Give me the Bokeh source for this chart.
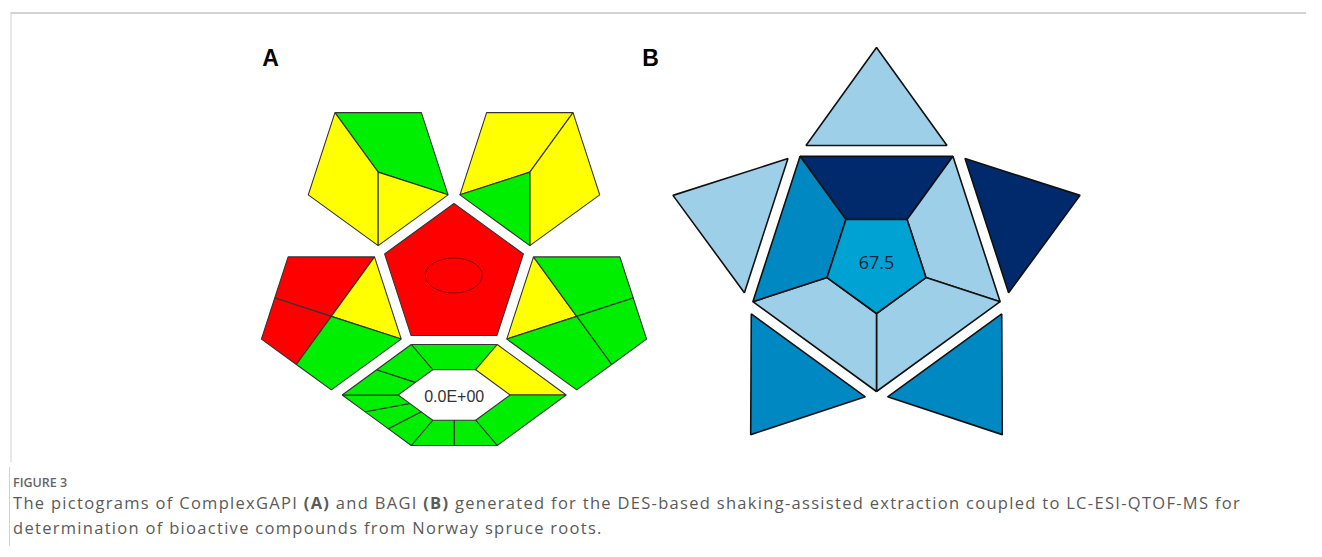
import numpy as np
from bokeh.plotting import figure
from bokeh.models import Range1d, Div, ColumnDataSource
from bokeh.layouts import column
from bokeh.embed import file_html
from bokeh.resources import INLINE
from bokeh.core.properties import value

# ---------------- data ----------------
G, Y, R = "#00ee00", "#ffff00", "#ff0000"
NAVY, MID, LIGHT, CORE = "#002a6b", "#0088c2", "#9ecfe9", "#00a2d3"

# ComplexGAPI (A) segment colours
gapi_top_left = [G, Y, Y]
gapi_top_right = [Y, Y, G]
gapi_mid_left = [R, R, Y, G]
gapi_mid_right = [Y, G, G, G]
gapi_center = R
# hexagon: top, upper-right, lower-right, bottom(2), lower-left(3), upper-left(2)
gapi_hex = [G, Y, G, G, G, G, G, G, G, G]
gapi_label = "0.0E+00"

# BAGI (B) colours: top, upper-right, lower-right, lower-left, upper-left
bagi_ring = [NAVY, LIGHT, LIGHT, LIGHT, MID]
bagi_tri = [LIGHT, NAVY, MID, MID, LIGHT]
bagi_core = CORE
bagi_score = "67.5"

panel_labels = ["A", "B"]
caption_head = "FIGURE 3"
caption_html = ("The pictograms of ComplexGAPI <b>(A)</b> and BAGI <b>(B)</b> generated for the "
                "DES-based shaking-assisted extraction coupled to LC-ESI-QTOF-MS for determination "
                "of bioactive compounds from Norway spruce roots.")

# ---------------- geometry helpers ----------------
def pt(cx, cy, r, ang):
    a = np.radians(ang)
    return (cx + r * np.cos(a), cy - r * np.sin(a))

def mid(a, b, t=0.5):
    return (a[0] + (b[0] - a[0]) * t, a[1] + (b[1] - a[1]) * t)

def inv_pent(cx, cy, r):
    return dict(B=pt(cx, cy, r, -90), Rt=pt(cx, cy, r, -18), TR=pt(cx, cy, r, 54),
                TL=pt(cx, cy, r, 126), L=pt(cx, cy, r, 198), C=(cx, cy))

xs, ys, cols = [], [], []
def add(poly, col):
    xs.append([q[0] for q in poly]); ys.append([q[1] for q in poly]); cols.append(col)

# ---------------- A: ComplexGAPI ----------------
AX, AY = 453.5, 276.0
AR = 73.5
AD = 129.0
add([pt(AX, AY, 73, a) for a in (90, 18, -54, -126, 162)], gapi_center)

def outer(ang):
    c = pt(AX, AY, AD, ang)
    return inv_pent(c[0], c[1], AR)

P = outer(126)
regions = [[P["TL"], P["TR"], P["Rt"], P["C"]], [P["TL"], P["C"], P["B"], P["L"]], [P["C"], P["Rt"], P["B"]]]
for poly, c in zip(regions, gapi_top_left): add(poly, c)

P = outer(54)
regions = [[P["TL"], P["TR"], P["C"], P["L"]], [P["TR"], P["Rt"], P["B"], P["C"]], [P["L"], P["C"], P["B"]]]
for poly, c in zip(regions, gapi_top_right): add(poly, c)

P = outer(198)
m1, m2 = mid(P["L"], P["TL"]), mid(P["B"], P["L"])
regions = [[m1, P["TL"], P["TR"], P["C"]], [P["L"], m1, P["C"], m2],
           [P["C"], P["TR"], P["Rt"]], [P["C"], P["Rt"], P["B"], m2]]
for poly, c in zip(regions, gapi_mid_left): add(poly, c)

P = outer(-18)
m1, m2 = mid(P["TR"], P["Rt"]), mid(P["Rt"], P["B"])
regions = [[P["TL"], P["C"], P["L"]], [P["TL"], P["TR"], m1, P["C"]],
           [P["C"], m1, P["Rt"], m2], [P["C"], m2, P["B"], P["L"]]]
for poly, c in zip(regions, gapi_mid_right): add(poly, c)

# hexagon
HX, HY = 453.7, 394.5
def hexv(s):
    hw, rx, ry = 43 * s, 112 * s, 50.5 * s
    return [(HX - hw, HY - ry), (HX + hw, HY - ry), (HX + rx, HY), (HX + hw, HY + ry), (HX - hw, HY + ry), (HX - rx, HY)]
O = hexv(1.0); I = hexv(0.5)
def seg(k, t0, t1):
    k2 = (k + 1) % 6
    return [mid(O[k], O[k2], t0), mid(O[k], O[k2], t1), mid(I[k], I[k2], t1), mid(I[k], I[k2], t0)]
hex_parts = [(0, [0, 1]), (1, [0, 1]), (2, [0, 1]), (3, [0, .5, 1]), (4, [0, 1/3, 2/3, 1]), (5, [0, .5, 1])]
hsegs = []
for k, ts in hex_parts:
    for a, b in zip(ts[:-1], ts[1:]):
        hsegs.append(seg(k, a, b))
for poly, c in zip(hsegs, gapi_hex): add(poly, c)

nA = len(cols)

# ---------------- B: BAGI ----------------
BX, BY, BR = 876.0, 261.0, 130.0
BRi = BR * 0.4
ring_edges = [(126, 54), (54, -18), (-18, -90), (-90, -162), (-162, -234)]
for (a0, a1), c in zip(ring_edges, bagi_ring):
    add([pt(BX, BY, BR, a0), pt(BX, BY, BR, a1), pt(BX, BY, BRi, a1), pt(BX, BY, BRi, a0)], c)
add([pt(BX, BY, BRi, a) for a in (-90, -18, 54, 126, 198)], bagi_core)
for phi, c in zip([90, 18, -54, -126, 162], bagi_tri):
    m = pt(BX, BY, 116, phi)
    ap = pt(BX, BY, 214, phi)
    ux, uy = np.cos(np.radians(phi + 90)), -np.sin(np.radians(phi + 90))
    add([(m[0] + 70.5 * ux, m[1] + 70.5 * uy), ap, (m[0] - 70.5 * ux, m[1] - 70.5 * uy)], c)

# ---------------- figure ----------------
W, H = 1306, 462
p = figure(width=W, height=H, x_range=Range1d(0, W), y_range=Range1d(H, 0),
           output_backend="svg", toolbar_location=None, min_border=0,
           x_axis_location=None, y_axis_location=None)
p.grid.visible = False
p.outline_line_color = None
p.background_fill_color = "white"

# page frame
p.line([10, W], [12.5, 12.5], line_color="#c4c4c4", line_width=1.5)
p.line([10.5, 10.5], [12.5, H], line_color="#d2d2d2", line_width=1)

src_a = ColumnDataSource(dict(xs=xs[:nA], ys=ys[:nA], c=cols[:nA]))
src_b = ColumnDataSource(dict(xs=xs[nA:], ys=ys[nA:], c=cols[nA:]))
p.patches("xs", "ys", source=src_a, fill_color="c", line_color="#333333", line_width=1.1)
p.patches("xs", "ys", source=src_b, fill_color="c", line_color="#111111", line_width=1.6)

p.ellipse(x=[453.3], y=[275], width=57, height=35, fill_color=None, line_color="#8a0000", line_width=1)

p.text(x=[HX], y=[HY + 1], text=[gapi_label], text_align="center", text_baseline="middle",
       text_font=value("Liberation Sans"), text_font_size="16px", text_color="#333333")
p.text(x=[BX], y=[BY + 1], text=[bagi_score], text_align="center", text_baseline="middle",
       text_font=value("Open Sans"), text_font_size="18px", text_color="#10253a")
p.text(x=[270, 650], y=[57, 57], text=panel_labels, text_align="center", text_baseline="middle",
       text_font=value("Liberation Sans"), text_font_style="bold", text_font_size="23px", text_color="#000000")

div = Div(text=(
    '<div style="margin-left:4px;border-left:1px solid #d2d2d2;padding-left:3px;height:79px;'
    'font-family:\'Open Sans\';">'
    f'<div style="font-size:12.5px;font-weight:600;color:#666;line-height:15px;padding-top:8px;">{caption_head}</div>'
    f'<div style="font-size:16.5px;letter-spacing:1.3px;color:#5a5a5a;line-height:25px;">{caption_html}</div>'
    '</div>'), width=W, height=79)

layout = column(p, div, spacing=0)
open("out.html", "w").write(file_html(layout, INLINE))
